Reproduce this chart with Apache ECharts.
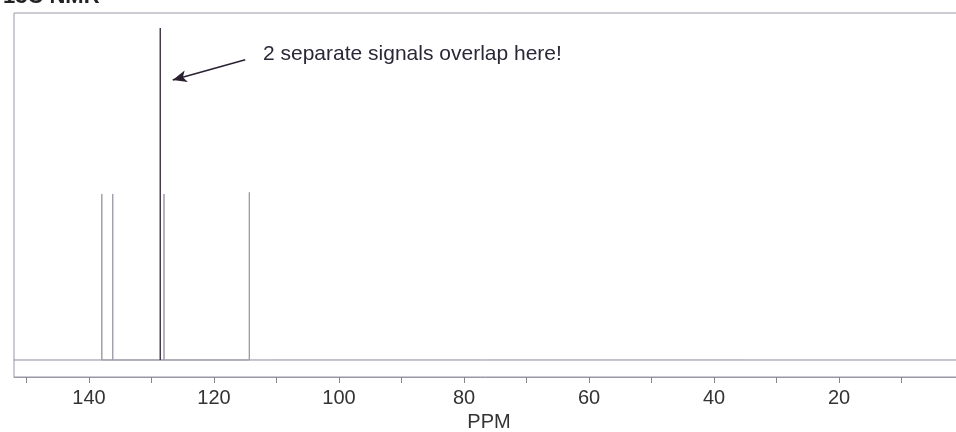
<!DOCTYPE html>
<html>
<head>
<meta charset="utf-8">
<script src="https://cdn.jsdelivr.net/npm/echarts@6/dist/echarts.min.js"></script>
<style>html,body{margin:0;padding:0;background:#fff}#c{width:956px;height:432px}</style>
</head>
<body>
<div id="c"></div>
<script>
// Peak positions (ppm) and relative intensities
const peakPpm = [137.95, 136.2, 128.0, 114.35];
const peakHeight = [50, 50, 50, 50.5];
const overlapPpm = [128.6];
const overlapHeight = [100];
const tickValues = [10, 20, 30, 40, 50, 60, 70, 80, 90, 100, 110, 120, 130, 140, 150];
const labelValues = [20, 40, 60, 80, 100, 120, 140];
const annotationText = '2 separate signals overlap here!';

function sticks(xs, hs) {
  const out = [];
  xs.forEach((x, i) => { out.push([x, 0], [x, hs[i]], [x, 0]); });
  return out;
}

const chart = echarts.init(document.getElementById('c'));
const font = 'Liberation Sans, Arial, sans-serif';
chart.setOption({
  animation: false,
  title: {
    text: '13C NMR',
    left: -2, top: -19,
    textStyle: { fontSize: 22, fontWeight: 'bold', color: '#222', fontFamily: font }
  },
  grid: { left: 14, right: -8, top: 13, bottom: 55, show: true, borderColor: '#9a98a8', borderWidth: 1, outerBoundsMode: 'none', containLabel: false },
  xAxis: {
    type: 'value', inverse: true, min: 0, max: 152,
    name: 'PPM', nameLocation: 'middle', nameGap: 34,
    nameTextStyle: { fontSize: 20, color: '#333', fontFamily: font },
    axisLine: { show: true, onZero: false, lineStyle: { color: '#9a98a8', width: 1 } },
    axisTick: { show: true, customValues: tickValues, length: 6, lineStyle: { color: '#888' } },
    axisLabel: { customValues: labelValues, fontSize: 20, color: '#333', margin: 11, fontFamily: font },
    splitLine: { show: false }
  },
  yAxis: {
    type: 'value', min: -5.12, max: 104.5, show: false, splitLine: { show: false }
  },
  series: [
    {
      type: 'line', symbol: 'none', silent: true,
      data: [[152, 0], [0, 0]],
      lineStyle: { color: '#8c8aa0', width: 1 }
    },
    {
      type: 'line', symbol: 'none', silent: true,
      data: sticks(peakPpm, peakHeight),
      lineStyle: { color: '#a09aa8', width: 1 }
    },
    {
      type: 'line', symbol: 'none', silent: true,
      data: sticks(overlapPpm, overlapHeight),
      lineStyle: { color: '#3a3040', width: 1.4 },
      markLine: {
        silent: true, symbol: ['none', 'arrow'], symbolSize: [9, 14],
        label: { show: false },
        lineStyle: { color: '#2a2030', width: 1.5, type: 'solid' },
        data: [[{ coord: [115.0, 90.4] }, { coord: [126.6, 84.3] }]]
      }
    }
  ],
  graphic: [{
    type: 'text', left: 263, top: 44,
    style: { text: annotationText, fontSize: 21, fill: '#2a2838', fontFamily: font }
  }]
});
</script>
</body>
</html>
